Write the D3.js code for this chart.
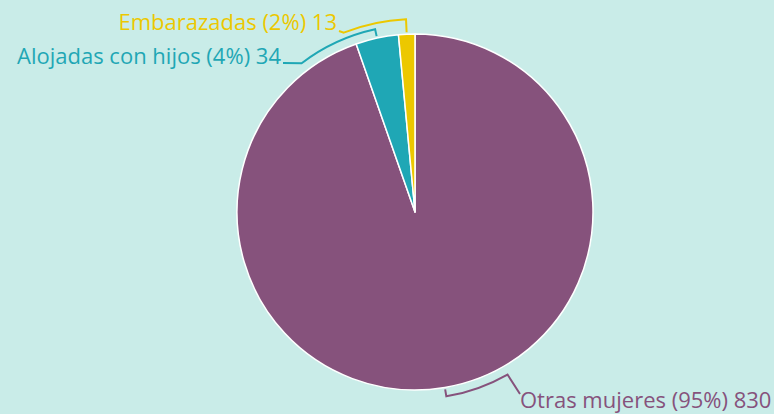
<!DOCTYPE html>
<html lang="es">
<head>
<meta charset="UTF-8">
<title>Mujeres</title>
<script src="https://d3js.org/d3.v7.min.js"></script>
<style>
html, body { margin: 0; padding: 0; background: #c9ece8; }
svg { display: block; }
text { font-family: "Open Sans", sans-serif; font-size: 22px; }
</style>
</head>
<body>
<svg width="774" height="414"></svg>
<script>
// data
const categories = ["Otras mujeres", "Alojadas con hijos", "Embarazadas"];
const values = [830, 34, 13];
const percents = ["95%", "4%", "2%"];
const colors = ["#86527c", "#1fa7b5", "#ecc800"];

var svg = d3.select("svg"),
    width = +svg.attr("width"),
    height = +svg.attr("height");

var cx = 415, cy = 212, r = 178;

var rows = categories.map(function(c, i) {
  return {name: c, value: values[i], pct: percents[i], color: colors[i]};
});

var pie = d3.pie().sort(null).value(function(d) { return d.value; });
var arcs = pie(rows);

var arc = d3.arc().innerRadius(0).outerRadius(r);

var g = svg.append("g").attr("transform", "translate(" + cx + "," + cy + ")");

g.selectAll("path.slice")
  .data(arcs)
  .enter().append("path")
    .attr("class", "slice")
    .attr("d", arc)
    .attr("fill", function(d) { return d.data.color; })
    .attr("stroke", "#fff")
    .attr("stroke-width", 1.5)
    .attr("stroke-linejoin", "round");

// connector settings per slice: radius of bracket, angular span, label anchor
var conn = [
  {ro: 9, span: 20 * Math.PI / 180, lx: 520, ly: 394, tx: 520, ty: 408, anchor: "start"},
  {ro: 9, span: -25 * Math.PI / 180, lx: 283, ly: 63, tx: 281, ty: 64, anchor: "end"},
  {ro: 15, span: -19 * Math.PI / 180, lx: 339, ly: 31, tx: 337, ty: 30, anchor: "end"}
];

function pt(a, rad) {
  return [Math.sin(a) * rad, -Math.cos(a) * rad];
}

arcs.forEach(function(d, i) {
  var c = conn[i];
  var mid = (d.startAngle + d.endAngle) / 2;
  // for the big slice the bracket goes the other way round
  var a0 = mid, a1 = mid - c.span;
  if (i > 0) a1 = mid + c.span;
  var ro = r + c.ro;
  var p0 = pt(a0, r + 2), p1 = pt(a0, ro);
  var path = d3.path();
  path.moveTo(p0[0], p0[1]);
  path.lineTo(p1[0], p1[1]);
  // d3.path arc uses angles from +x axis
  path.arc(0, 0, ro, a0 - Math.PI / 2, a1 - Math.PI / 2, a1 < a0);
  path.lineTo(c.lx - cx, c.ly - cy);
  g.append("path")
    .attr("d", path.toString())
    .attr("fill", "none")
    .attr("stroke", d.data.color)
    .attr("stroke-width", 2);

  svg.append("text")
    .attr("x", c.tx)
    .attr("y", c.ty)
    .attr("text-anchor", c.anchor)
    .attr("fill", d.data.color)
    .text(d.data.name + " (" + d.data.pct + ") " + d.data.value);
});
</script>
</body>
</html>
